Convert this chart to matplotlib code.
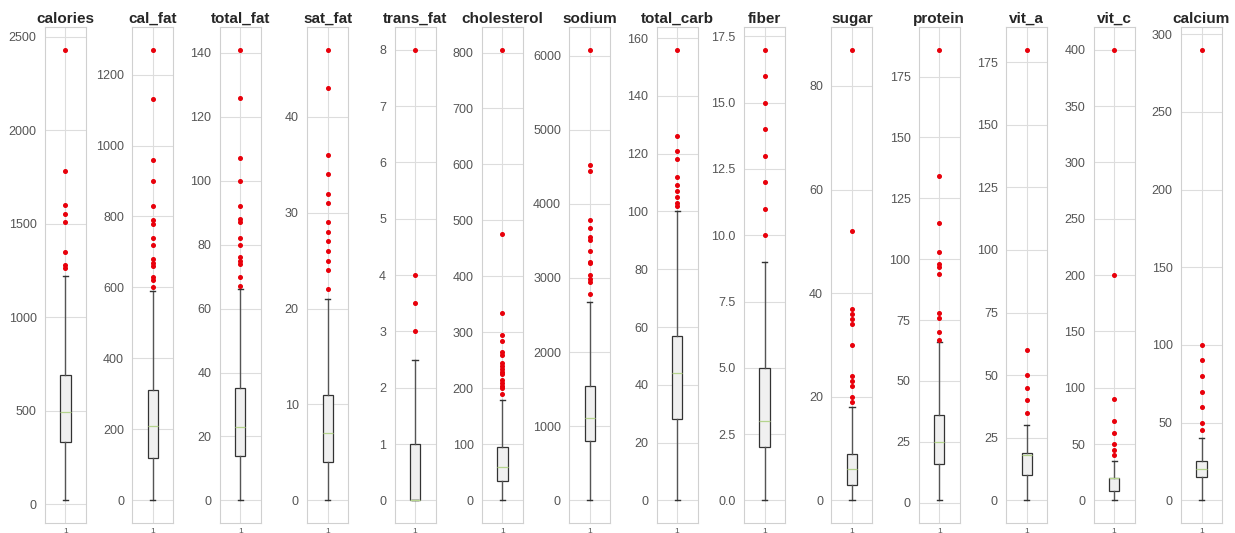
import matplotlib
matplotlib.use('Agg')
import matplotlib.pyplot as plt

# Columns shown, one box per panel
columns = ['calories', 'cal_fat', 'total_fat', 'sat_fat', 'trans_fat', 'cholesterol', 'sodium',
           'total_carb', 'fiber', 'sugar', 'protein', 'vit_a', 'vit_c', 'calcium']

# Box statistics: whisker low, Q1, median, Q3, whisker high
whis_lo = [20, 0, 0, 0, 0, 0, 0, 0, 0, 0, 1, 0, 0, 0]
q1 = [330, 120, 14, 4, 0, 35, 800, 28, 2, 3, 16, 10, 8, 15]
median = [490, 210, 23, 7, 0, 60, 1110, 44, 3, 6, 25, 18, 20, 20]
q3 = [690, 310, 35, 11, 1, 95, 1540, 57, 5, 9, 36, 19, 20, 25]
whis_hi = [1220, 590, 66, 21, 2.5, 180, 2680, 100, 9, 18, 66, 30, 35, 40]

# Outliers (red dots)
fliers = [
    [2430, 1780, 1600, 1550, 1510, 1350, 1280, 1260],
    [1270, 1130, 960, 900, 830, 790, 780, 740, 720, 680, 670, 660, 630, 620, 600],
    [141, 126, 107, 100, 92, 88, 87, 82, 80, 76, 75, 74, 70, 67],
    [47, 43, 36, 34, 32, 31, 29, 28, 27, 26, 25, 24, 22],
    [8, 4, 3.5, 3],
    [805, 475, 335, 295, 285, 265, 260, 245, 240, 235, 230, 225, 215, 210, 205, 200, 190],
    [6080, 4520, 4450, 3780, 3670, 3550, 3510, 3360, 3220, 3200, 3045, 2990, 2950, 2790],
    [156, 126, 121, 118, 112, 109, 107, 105, 103, 102],
    [17, 16, 15, 14, 13, 12, 11, 10],
    [87, 52, 37, 36, 35, 34, 30, 24, 23, 22, 20, 19],
    [186, 134, 115, 103, 98, 97, 94, 78, 76, 70, 67],
    [180, 60, 50, 45, 40, 35],
    [400, 200, 90, 70, 60, 50, 45, 40],
    [290, 100, 90, 80, 70, 60, 50, 45],
]

plt.rcParams['font.family'] = ['Liberation Sans', 'DejaVu Sans']

fig, axes = plt.subplots(1, len(columns), figsize=(12.35, 5.33), dpi=100)
fig.subplots_adjust(left=0.0364, right=0.9895, bottom=0.019, top=0.949, wspace=1.13)

for i, (ax, name) in enumerate(zip(axes, columns)):
    stats = [{
        'label': '1',
        'whislo': whis_lo[i], 'q1': q1[i], 'med': median[i], 'q3': q3[i], 'whishi': whis_hi[i],
        'fliers': fliers[i],
    }]
    ax.bxp(stats, widths=0.25, patch_artist=True,
           boxprops=dict(facecolor='#f0f0f0', edgecolor='#333333', linewidth=0.9),
           whiskerprops=dict(color='#555555', linewidth=1.0),
           capprops=dict(color='#333333', linewidth=1.0),
           medianprops=dict(color='#b5d48e', linewidth=0.9),
           flierprops=dict(marker='o', markersize=2.6, markerfacecolor='#e8000b',
                           markeredgecolor='#e8000b', linestyle='none'))
    ax.set_title(name, fontsize=11, fontweight='bold', color='#262626', pad=3)
    ax.set_facecolor('white')
    ax.grid(True, color='#dddddd', linewidth=0.8)
    ax.set_axisbelow(True)
    for sp in ax.spines.values():
        sp.set_color('#d0d0d0')
        sp.set_linewidth(0.8)
    ax.tick_params(axis='both', length=0, colors='#555555')
    ax.tick_params(axis='y', labelsize=9, pad=6)
    ax.tick_params(axis='x', labelsize=6, pad=4)

fig.savefig('out.png', dpi=100)
